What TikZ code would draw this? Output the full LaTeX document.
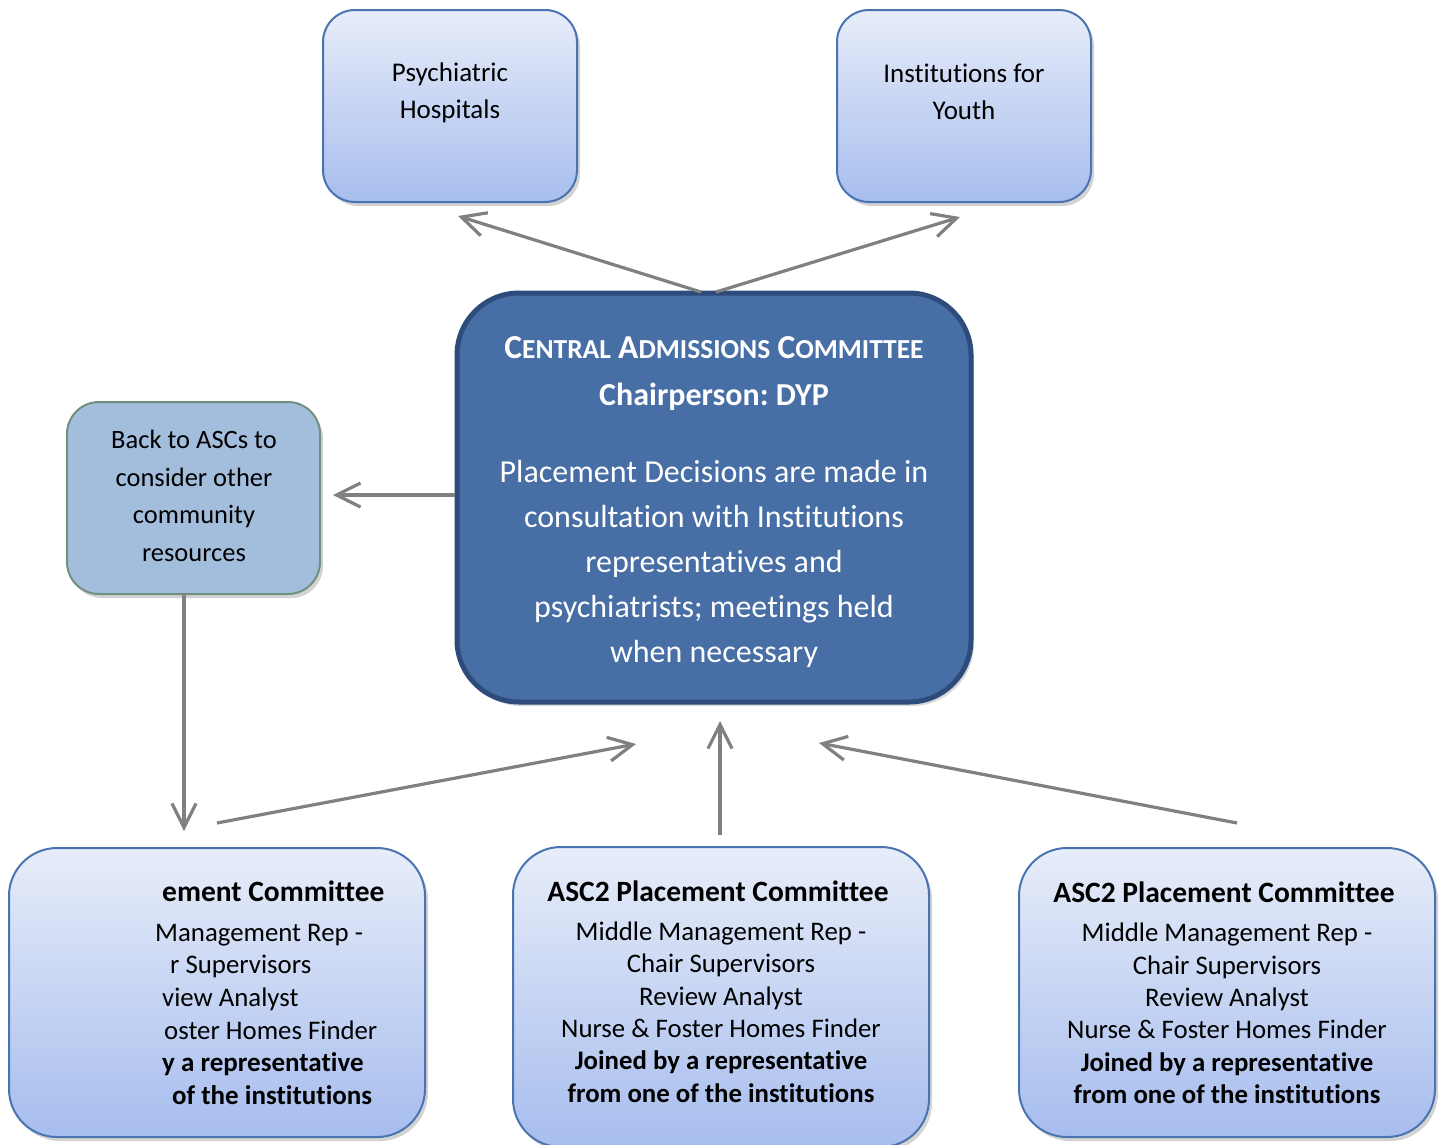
\documentclass[tikz,border=0pt]{standalone}
\usepackage{fontspec}
\setmainfont[Ligatures=NoCommon]{Carlito}
\frenchspacing
\usetikzlibrary{arrows.meta,shadows,calc}
\definecolor{boxtop}{HTML}{E7EDF9}
\definecolor{boxbot}{HTML}{A7BDEE}
\definecolor{boxline}{HTML}{4A74B0}
\definecolor{cacfill}{HTML}{476EA5}
\definecolor{cacline}{HTML}{2E4C7B}
\definecolor{backfill}{HTML}{A3BDDD}
\definecolor{backline}{HTML}{71907F}
\definecolor{arrowgray}{HTML}{808080}
\tikzset{
  lightbox/.style={draw=boxline, line width=2pt, top color=boxtop, bottom color=boxbot,
    drop shadow={opacity=0.35, shadow xshift=3pt, shadow yshift=-4pt}},
  cacbox/.style={draw=cacline, line width=5pt, fill=cacfill, rounded corners=62pt,
    drop shadow={opacity=0.3, shadow xshift=3pt, shadow yshift=-4pt}},
  backbox/.style={draw=backline, line width=2pt, fill=backfill, rounded corners=32pt,
    drop shadow={opacity=0.35, shadow xshift=3pt, shadow yshift=-4pt}},
  txt/.style={font=\fontsize{27}{37}\selectfont, align=center, inner sep=0pt},
  ltxt/.style={font=\fontsize{26.5}{37.6}\selectfont, align=center, inner sep=0pt},
  btxt/.style={font=\fontsize{26.8}{32.4}\selectfont, align=center, inner sep=0pt},
  bhead/.style={font=\bfseries\fontsize{29.5}{32}\selectfont, align=center, inner sep=0pt},
  bbold/.style={font=\bfseries\fontsize{27}{32}\selectfont, align=center, inner sep=0pt},
  wtxt/.style={text=white, font=\fontsize{32}{45}\selectfont, align=center, inner sep=0pt},
  whead/.style={text=white, font=\bfseries\fontsize{32}{40}\selectfont, align=center, inner sep=0pt},
  arr/.style={draw=arrowgray, line width=3.2pt, -{Straight Barb[length=24pt,width=24pt,line width=3.2pt]}},
}
\newcommand{\bigsc}[2]{{\fontsize{33.5}{40}\selectfont #1}{\fontsize{27.5}{40}\selectfont #2}}
\begin{document}
\begin{tikzpicture}[x=1pt,y=-1pt]
\useasboundingbox (0,0) rectangle (1442,1144);

% top boxes
\node[lightbox, rounded corners=32pt, minimum width=254pt, minimum height=192pt] (psy) at (450,106) {};
\node[txt] (psyt) at (450,93) {Psychiatric\\Hospitals};
\node[lightbox, rounded corners=32pt, minimum width=254pt, minimum height=192pt] (youth) at (964,106) {};
\node[txt] (youtht) at (964,92) {Institutions for\\Youth};

% central box
\node[cacbox, minimum width=514pt, minimum height=409pt] (cac) at (714,497.5) {};
\node[whead] (cact) at (714,348) {\bigsc{C}{ENTRAL} \bigsc{A}{DMISSIONS} \bigsc{C}{OMMITTEE}};
\node[whead] (chair) at (714,397) {Chairperson: DYP};
\node[wtxt] (cacb) at (714,564) {Placement Decisions are made in\\consultation with Institutions\\representatives and\\psychiatrists; meetings held\\when necessary};

% back box
\node[backbox, minimum width=253pt, minimum height=192pt] (back) at (193.5,498) {};
\node[ltxt] (backt) at (194,496) {Back to ASCs to\\consider other\\community\\resources};

% bottom boxes
\node[lightbox, rounded corners=48pt, minimum width=416pt, minimum height=289pt] (asc1) at (217,992.5) {};
\node[lightbox, rounded corners=48pt, minimum width=416pt, minimum height=300pt] (asc2) at (721,997) {};
\node[lightbox, rounded corners=48pt, minimum width=416pt, minimum height=289pt] (asc3) at (1227,992.5) {};

% left bottom (clipped) text
\node[bhead, anchor=base west] (l1) at (162,901) {ement Committee};
\node[btxt, anchor=base west] (l2) at (155,941) {Management Rep -};
\node[btxt, anchor=base west] (l3) at (170,973) {r Supervisors};
\node[btxt, anchor=base west] (l4) at (162,1006) {view Analyst};
\node[btxt, anchor=base west] (l5) at (164,1039) {oster Homes Finder};
\node[bbold, anchor=base west] (l6) at (162,1071) {y a representative};
\node[bbold, anchor=base west] (l7) at (172,1104) {of the institutions};

% middle bottom text
\node[bhead] (m1) at (718,891) {ASC2 Placement Committee};
\node[btxt] (m2) at (721,1012) {Middle Management Rep -\\Chair Supervisors\\Review Analyst\\Nurse \& Foster Homes Finder\\\textbf{Joined by a representative}\\\textbf{from one of the institutions}};

% right bottom text
\node[bhead] (r1) at (1224,892) {ASC2 Placement Committee};
\node[btxt] (r2) at (1227,1013.5) {Middle Management Rep -\\Chair Supervisors\\Review Analyst\\Nurse \& Foster Homes Finder\\\textbf{Joined by a representative}\\\textbf{from one of the institutions}};

% arrow endpoints
\coordinate (a1s) at (701,292);
\coordinate (a1e) at (458,216);
\coordinate (a2s) at (716,292);
\coordinate (a2e) at (960,217);
\coordinate (a3e) at (333,495);
\coordinate (a4s) at (184,594);
\coordinate (a4e) at (184,831);
\coordinate (a5s) at (217,823);
\coordinate (a5e) at (636,744);
\coordinate (a6s) at (720,835);
\coordinate (a6e) at (720,721);
\coordinate (a7s) at (1237,823);
\coordinate (a7e) at (819,743);

\draw[arr] (a1s) -- (a1e);
\draw[arr] (a2s) -- (a2e);
\draw[arr] (cac.west |- a3e) -- (a3e);
\draw[arr] (a4s) -- (a4e);
\draw[arr] (a5s) -- (a5e);
\draw[arr] (a6s) -- (a6e);
\draw[arr] (a7s) -- (a7e);
\end{tikzpicture}
\end{document}
